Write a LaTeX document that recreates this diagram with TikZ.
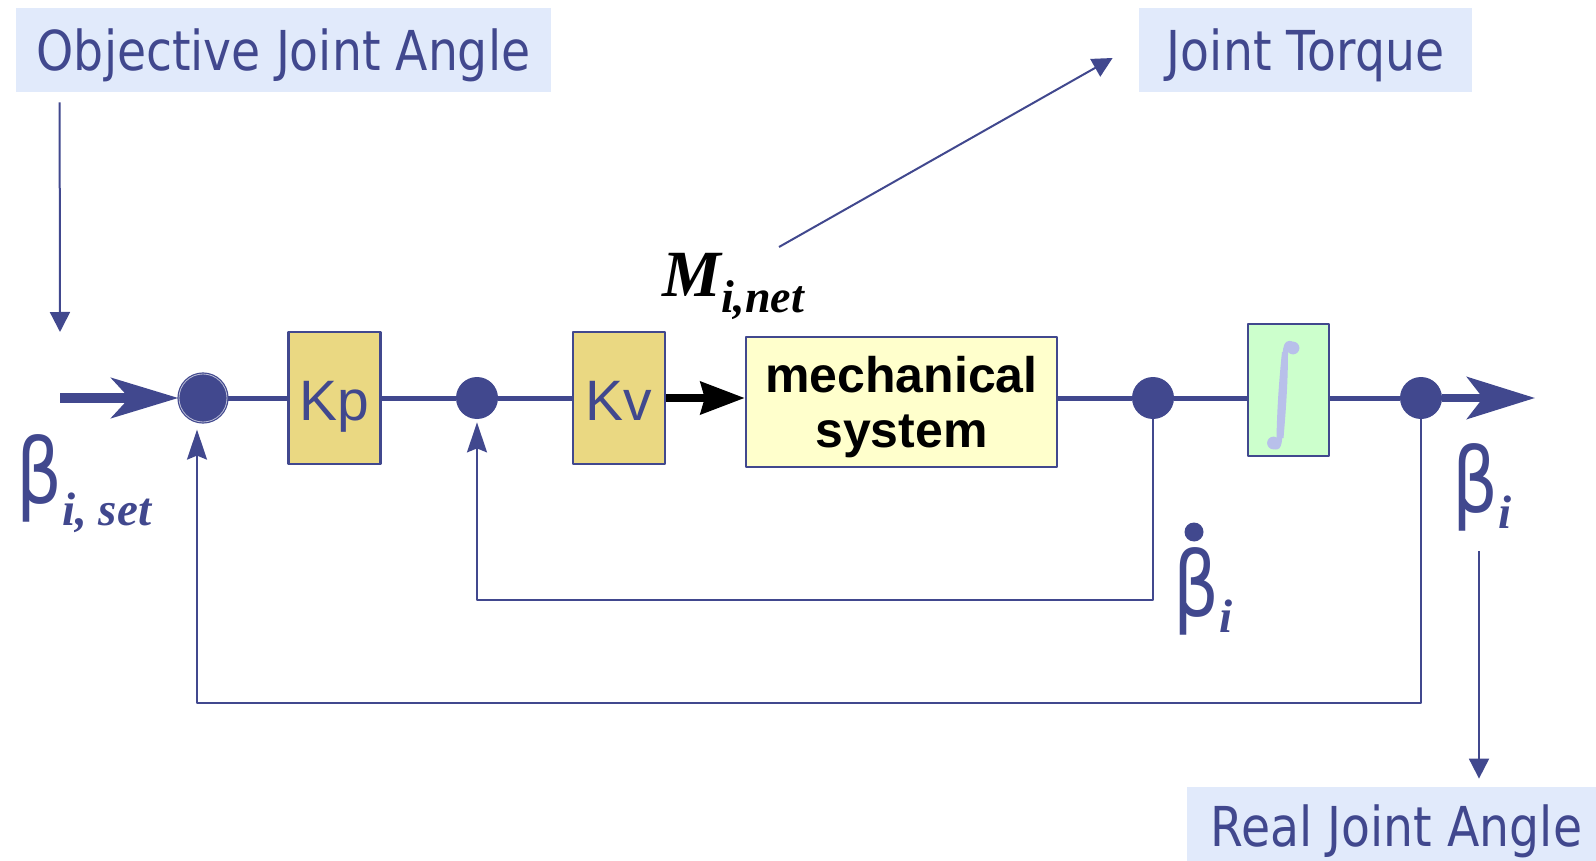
\documentclass[tikz,border=0pt]{standalone}
\usepackage{fontspec}
\setmainfont{Liberation Sans}
\newfontfamily\labelfont[FakeStretch=0.86]{DejaVu Sans}
\newfontfamily\grkfont[FakeStretch=0.8]{DejaVu Sans}
\newfontfamily\timesfont{Liberation Serif}
\usepackage{tikz}
\usetikzlibrary{arrows.meta}
\definecolor{ink}{RGB}{65,72,142}
\definecolor{tagfill}{RGB}{225,234,251}
\definecolor{gainfill}{RGB}{234,216,130}
\definecolor{plantfill}{RGB}{255,255,204}
\definecolor{intfill}{RGB}{204,255,204}
\definecolor{intsign}{RGB}{184,192,234}

\begin{document}
\begin{tikzpicture}[x=0.5pt, y=-0.5pt, line join=round,
    tag/.style={fill=tagfill, inner sep=0pt, text=ink, text height=21pt, text depth=0pt,
      font=\labelfont\fontsize{27.5pt}{30pt}\selectfont},
    betatag/.style={inner sep=0pt, text=ink,
      font=\grkfont\fontsize{45pt}{48pt}\selectfont},
    gain/.style={draw=ink, line width=1.2pt, fill=gainfill, minimum width=46pt,
      minimum height=66pt, inner sep=0pt, text=ink, text height=22pt, text depth=0pt,
      font=\fontsize{28.5pt}{30pt}\selectfont},
    plant/.style={draw=ink, line width=1.2pt, fill=plantfill, minimum width=155.5pt,
      minimum height=65pt, inner sep=0pt, align=center,
      font=\bfseries\fontsize{25pt}{27.5pt}\selectfont},
    intbox/.style={draw=ink, line width=1.2pt, fill=intfill, minimum width=40.5pt,
      minimum height=66pt, inner sep=0pt},
    junction/.style={circle, fill=ink, inner sep=0pt, minimum size=21pt},
    main/.style={draw=ink, line width=2.5pt},
    fb/.style={draw=ink, line width=1pt, -{Stealth[length=15pt,width=10pt,inset=2pt]}},
    pointer/.style={draw=ink, line width=1pt, -{Triangle[length=10pt,width=10pt]}},
    inflow/.style={draw=ink, line width=5pt, -{Stealth[length=33.5pt,width=20pt,inset=9pt]}},
    outflow/.style={draw=ink, line width=4pt, -{Stealth[length=34pt,width=21pt,inset=8pt]}},
    push/.style={draw=black, line width=4pt, -{Stealth[length=22pt,width=16pt,inset=2pt]}}]
  \useasboundingbox (0,0) rectangle (1596,861);

  % text boxes
  \node[tag, minimum width=267.5pt, minimum height=42pt] (obj) at (283.5,50) {Objective Joint Angle};
  \node[tag, minimum width=166.5pt, minimum height=42pt] (torque) at (1305.5,50) {Joint Torque};
  \node[tag, minimum width=209.5pt, minimum height=44pt, text height=15pt] (real) at (1396.5,831) {Real Joint Angle};

  % blocks
  \node[junction, minimum size=24pt, draw=ink, double=ink!35, double distance=0.4pt, line width=0.6pt] (s1) at (203,398) {};
  \node[gain] (kp) at (334.5,398) {Kp};
  \node[junction] (s2) at (477,398) {};
  \node[gain] (kv) at (619,398) {Kv};
  \node[plant] (mech) at (901.5,402) {\rule{0pt}{23pt}mechanical\\system};
  \node[junction] (s3) at (1153,398) {};
  \node[intbox] (integ) at (1288.5,390) {};
  \node[junction] (s4) at (1421,398) {};

  % integral sign
  \fill[intsign] (1282,352) .. controls (1279,380) and (1277,410) .. (1276.5,438)
    -- (1283.5,438) .. controls (1286,410) and (1288,380) .. (1288,352) -- cycle;
  \draw[intsign, line width=2.5pt] (1285,358) .. controls (1285,343) and (1289,340) .. (1293,346);
  \draw[intsign, line width=2.5pt] (1280,432) .. controls (1280,450) and (1275,450) .. (1273,443);
  \fill[intsign] (1293,348) circle (3.2pt) (1273.5,443) circle (3.2pt);

  % labels
  \node[betatag, anchor=base west] (bset) at (16,503)
    {β\raisebox{-11pt}{\timesfont\bfseries\itshape\fontsize{23.5pt}{25pt}\selectfont i, set}};
  \node[inner sep=0pt, anchor=base west, font=\timesfont\bfseries\itshape\fontsize{33pt}{35pt}\selectfont] (mnet) at (662,297)
    {M\raisebox{-8pt}{\fontsize{23pt}{25pt}\selectfont i,net}};
  \node[betatag, anchor=base west] (bdot) at (1173,616)
    {β\raisebox{-8pt}{\timesfont\bfseries\itshape\fontsize{23.5pt}{25pt}\selectfont i}};
  \fill[ink] (1194,532) circle (4.75pt);
  \node[betatag, anchor=base west] (bout) at (1452,512)
    {β\raisebox{-8pt}{\timesfont\bfseries\itshape\fontsize{23.5pt}{25pt}\selectfont i}};

  \coordinate (in) at (60,398);
  \coordinate (out) at (1535,398);
  \coordinate (objtip) at (60,332);
  \coordinate (tq) at (779,247);
  \coordinate (rtop) at (1479,551);
  \coordinate (fbi) at (477,600);
  \coordinate (fbo) at (197,703);

  % forward path
  \draw[inflow] (in) -- (s1);
  \draw[main] (s1) -- (kp) -- (s2) -- (kv);
  \draw[push] (kv) -- (mech.west |- kv);
  \draw[main] (mech.east |- s3) -- (s3) -- (integ.west |- s3);
  \draw[main] (integ.east |- s4) -- (s4);
  \draw[outflow] (s4) -- (out);

  % feedback
  \draw[fb, shorten >=1.5pt] (s3) |- (fbi) -- (s2);
  \draw[fb, shorten >=3.5pt] (s4) |- (fbo) -- (fbo |- s1.south);

  % pointers
  \draw[pointer] ([xshift=22pt,yshift=-5pt]obj.south west) -- (objtip);
  \draw[pointer] (tq) -- ([xshift=-13pt,yshift=-4pt]torque.west);
  \draw[pointer, shorten >=4pt] (rtop) -- (rtop |- real.north);
\end{tikzpicture}
\end{document}
